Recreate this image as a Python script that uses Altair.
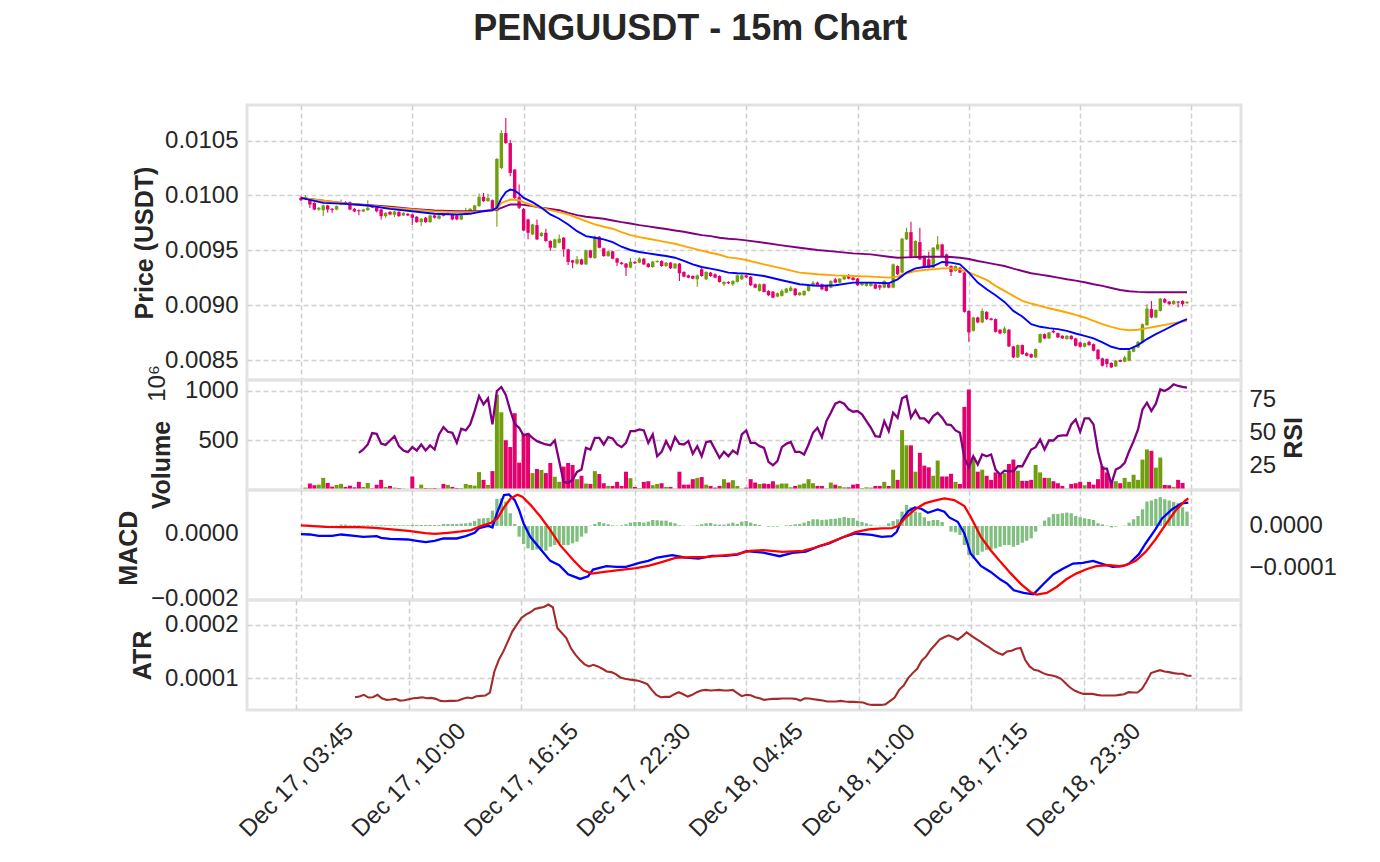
import altair as alt
import pandas as pd

# ---------------- data ----------------
N = 200  # 15-minute candles, index 0 = Dec 17 03:45
x_tick_values = [0, 25, 50, 75, 100, 125, 150, 175, 200]
x_tick_labels = ["Dec 17, 03:45", "Dec 17, 10:00", "Dec 17, 16:15", "Dec 17, 22:30",
                 "Dec 18, 04:45", "Dec 18, 11:00", "Dec 18, 17:15", "Dec 18, 23:30", ""]

# prices in micro-USDT (1e-6 USDT)
open_e6 = [
    9978, 9972, 9972, 9933, 9872, 9866, 9909, 9878, 9872, 9918,
    9939, 9939, 9878, 9866, 9854, 9866, 9900, 9888, 9872, 9812,
    9851, 9824, 9851, 9818, 9833, 9827, 9806, 9757, 9797, 9757,
    9818, 9788, 9824, 9836, 9827, 9818, 9782, 9836, 9857, 9866,
    9903, 9988, 9948, 9957, 9857, 10251, 10569, 10478, 10236, 9985,
    9878, 9782, 9645, 9730, 9630, 9660, 9585, 9524, 9569, 9615,
    9509, 9409, 9379, 9418, 9372, 9500, 9430, 9624, 9518, 9448,
    9491, 9427, 9388, 9379, 9342, 9394, 9388, 9424, 9379, 9348,
    9394, 9403, 9357, 9388, 9336, 9379, 9303, 9272, 9266, 9236,
    9327, 9236, 9297, 9282, 9266, 9191, 9212, 9191, 9212, 9236,
    9272, 9260, 9191, 9130, 9191, 9130, 9124, 9079, 9085, 9115,
    9130, 9151, 9091, 9091, 9130, 9176, 9206, 9191, 9176, 9160,
    9236, 9206, 9236, 9272, 9251, 9242, 9182, 9176, 9176, 9191,
    9182, 9160, 9191, 9160, 9357, 9297, 9600, 9666, 9433, 9575,
    9448, 9418, 9342, 9509, 9554, 9463, 9357, 9312, 9342, 9297,
    8948, 8766, 8888, 8843, 8939, 8879, 8873, 8776, 8745, 8776,
    8624, 8524, 8636, 8563, 8554, 8524, 8660, 8736, 8697, 8766,
    8745, 8721, 8691, 8721, 8697, 8660, 8621, 8666, 8645, 8594,
    8515, 8509, 8473, 8442, 8500, 8485, 8494, 8576, 8615, 8660,
    8818, 8964, 8888, 8948, 9055, 9033, 9009, 9033, 9039, 9018,
]
close_e6 = [
    9957, 9985, 9918, 9872, 9888, 9909, 9872, 9869, 9903, 9933,
    9927, 9872, 9854, 9857, 9872, 9888, 9891, 9857, 9812, 9842,
    9827, 9854, 9812, 9842, 9818, 9797, 9757, 9788, 9757, 9818,
    9797, 9818, 9815, 9845, 9782, 9782, 9818, 9857, 9878, 9909,
    9988, 9948, 9978, 9878, 10333, 10569, 10478, 10206, 9978, 9888,
    9681, 9660, 9736, 9600, 9660, 9585, 9524, 9600, 9606, 9509,
    9394, 9388, 9418, 9372, 9500, 9433, 9624, 9524, 9448, 9491,
    9424, 9388, 9375, 9342, 9397, 9382, 9424, 9372, 9348, 9397,
    9403, 9357, 9388, 9336, 9379, 9291, 9260, 9251, 9242, 9272,
    9266, 9303, 9266, 9251, 9212, 9212, 9200, 9221, 9272, 9272,
    9254, 9182, 9160, 9191, 9121, 9091, 9069, 9109, 9130, 9151,
    9160, 9091, 9115, 9130, 9182, 9206, 9182, 9145, 9130, 9221,
    9206, 9242, 9266, 9242, 9230, 9182, 9206, 9206, 9206, 9151,
    9160, 9221, 9160, 9372, 9282, 9606, 9666, 9433, 9585, 9418,
    9342, 9342, 9524, 9554, 9448, 9357, 9303, 9357, 9297, 8939,
    8752, 8888, 8843, 8948, 8873, 8866, 8757, 8742, 8788, 8624,
    8524, 8636, 8554, 8539, 8524, 8600, 8736, 8697, 8752, 8752,
    8706, 8697, 8721, 8691, 8630, 8621, 8654, 8636, 8585, 8509,
    8448, 8463, 8433, 8494, 8485, 8524, 8585, 8615, 8666, 8827,
    8969, 8888, 8957, 9060, 9024, 9009, 9039, 9024, 9009, 9030,
]
high_e6 = [
    9994, 10003, 9978, 9939, 9894, 9918, 9915, 9885, 9909, 9963,
    9948, 9945, 9885, 9872, 9878, 9957, 9906, 9894, 9878, 9848,
    9857, 9860, 9857, 9848, 9839, 9833, 9812, 9794, 9803, 9824,
    9824, 9824, 9830, 9851, 9833, 9824, 9824, 9888, 9885, 9915,
    10018, 10024, 10015, 9963, 10342, 10594, 10706, 10509, 10242, 10100,
    9885, 9788, 9742, 9782, 9666, 9697, 9591, 9606, 9645, 9621,
    9515, 9415, 9448, 9424, 9506, 9506, 9636, 9630, 9524, 9497,
    9497, 9433, 9394, 9385, 9430, 9400, 9436, 9430, 9385, 9403,
    9409, 9409, 9394, 9394, 9385, 9385, 9309, 9279, 9272, 9279,
    9342, 9309, 9303, 9288, 9272, 9218, 9218, 9227, 9279, 9279,
    9279, 9266, 9197, 9197, 9197, 9136, 9130, 9115, 9145, 9157,
    9176, 9157, 9121, 9136, 9188, 9221, 9215, 9197, 9182, 9227,
    9251, 9248, 9272, 9285, 9257, 9248, 9212, 9212, 9212, 9197,
    9188, 9227, 9197, 9379, 9363, 9612, 9706, 9760, 9591, 9706,
    9454, 9488, 9530, 9630, 9560, 9469, 9363, 9363, 9348, 9303,
    8954, 8894, 8894, 8969, 8945, 8885, 8879, 8782, 8806, 8782,
    8630, 8642, 8642, 8570, 8560, 8606, 8742, 8742, 8757, 8788,
    8752, 8727, 8727, 8727, 8703, 8666, 8660, 8676, 8651, 8600,
    8521, 8515, 8479, 8500, 8506, 8539, 8591, 8621, 8673, 8833,
    9009, 9039, 8964, 9066, 9066, 9039, 9045, 9039, 9045, 9036,
]
low_e6 = [
    9948, 9963, 9885, 9866, 9860, 9812, 9842, 9842, 9866, 9912,
    9918, 9866, 9848, 9821, 9848, 9860, 9885, 9848, 9782, 9797,
    9821, 9803, 9806, 9812, 9812, 9730, 9751, 9721, 9751, 9751,
    9791, 9782, 9809, 9830, 9775, 9775, 9775, 9830, 9851, 9860,
    9897, 9942, 9942, 9872, 9715, 10242, 10472, 10175, 9969, 9878,
    9675, 9600, 9639, 9594, 9624, 9578, 9494, 9518, 9563, 9442,
    9366, 9336, 9372, 9366, 9366, 9427, 9424, 9518, 9442, 9442,
    9418, 9357, 9369, 9266, 9336, 9375, 9382, 9366, 9342, 9342,
    9388, 9351, 9351, 9330, 9330, 9221, 9254, 9245, 9236, 9169,
    9260, 9230, 9260, 9245, 9206, 9176, 9194, 9176, 9206, 9230,
    9248, 9176, 9154, 9124, 9115, 9085, 9063, 9072, 9079, 9109,
    9124, 9085, 9085, 9085, 9124, 9169, 9176, 9139, 9124, 9154,
    9200, 9200, 9230, 9236, 9224, 9176, 9176, 9169, 9169, 9145,
    9139, 9154, 9154, 9154, 9275, 9291, 9594, 9427, 9427, 9412,
    9336, 9336, 9336, 9503, 9442, 9351, 9266, 9306, 9291, 8933,
    8666, 8760, 8836, 8836, 8866, 8860, 8752, 8736, 8739, 8618,
    8518, 8518, 8548, 8533, 8518, 8518, 8654, 8691, 8691, 8745,
    8700, 8691, 8685, 8685, 8624, 8615, 8615, 8630, 8579, 8503,
    8442, 8433, 8427, 8436, 8479, 8479, 8488, 8570, 8609, 8654,
    8812, 8882, 8882, 8942, 9018, 9003, 9003, 8979, 8988, 9012,
]
# volume in millions
volume_m = [
    10, 24, 65, 48, 54, 122, 71, 34, 51, 61,
    31, 44, 27, 82, 31, 71, 17, 54, 102, 31,
    41, 24, 20, 14, 5, 136, 17, 54, 20, 20,
    20, 14, 61, 51, 31, 20, 20, 61, 51, 44,
    180, 102, 51, 190, 959, 782, 500, 432, 772, 275,
    568, 568, 170, 211, 201, 170, 272, 133, 82, 235,
    272, 252, 109, 143, 65, 61, 190, 160, 68, 41,
    41, 82, 41, 184, 119, 31, 20, 82, 88, 48,
    61, 68, 31, 31, 14, 184, 54, 54, 109, 122,
    130, 54, 41, 24, 41, 109, 75, 99, 41, 14,
    24, 109, 75, 61, 65, 61, 88, 54, 65, 65,
    27, 41, 54, 65, 109, 68, 41, 41, 14, 75,
    54, 41, 27, 27, 54, 61, 20, 27, 24, 41,
    41, 82, 41, 204, 102, 602, 449, 449, 184, 374,
    245, 228, 143, 296, 136, 136, 163, 82, 61, 836,
    1010, 330, 184, 204, 143, 102, 177, 156, 170, 262,
    306, 194, 92, 92, 102, 252, 177, 122, 122, 88,
    68, 41, 14, 61, 68, 82, 48, 82, 54, 109,
    238, 177, 88, 88, 68, 122, 82, 153, 102, 306,
    408, 394, 225, 326, 51, 48, 31, 102, 71, 8,
]

# moving averages (micro-USDT), read at the given candle indices
ema_fast_idx = [0, 5, 10, 15, 20, 25, 30, 35, 38, 41, 43, 44, 45, 46, 47, 48, 49, 50, 52, 54,
                56, 58, 60, 62, 64, 66, 68, 70, 72, 74, 76, 78, 80, 82, 84, 86, 88, 90, 92, 94,
                96, 98, 100, 104, 108, 112, 116, 120, 124, 128, 132, 134, 136, 138, 140, 142, 144, 146, 148, 150,
                152, 154, 156, 158, 160, 162, 164, 166, 168, 170, 172, 174, 176, 178, 180, 182, 184, 186, 188, 190,
                192, 194, 196, 198, 199]
ema_fast_e6 = [9978, 9933, 9924, 9909, 9878, 9857, 9833, 9827, 9833, 9857, 9866, 9888, 9972, 10030, 10054, 10045, 10015, 9978, 9939, 9888,
               9827, 9788, 9736, 9675, 9630, 9615, 9600, 9575, 9533, 9503, 9485, 9472, 9460, 9448, 9433, 9403, 9372, 9348, 9333, 9318,
               9297, 9291, 9288, 9266, 9227, 9191, 9176, 9182, 9206, 9206, 9200, 9236, 9297, 9336, 9348, 9357, 9394, 9388, 9372, 9297,
               9206, 9145, 9091, 9030, 8948, 8897, 8827, 8803, 8791, 8782, 8766, 8742, 8721, 8697, 8660, 8621, 8600, 8600, 8636, 8691,
               8736, 8776, 8818, 8857, 8873]
ema_mid_idx = [0, 10, 20, 25, 30, 35, 40, 43, 44, 45, 47, 49, 50, 52, 54, 56, 58, 60, 62, 64,
               66, 68, 70, 72, 74, 76, 78, 80, 82, 84, 86, 88, 90, 92, 94, 96, 98, 100, 104, 108,
               112, 116, 120, 124, 128, 132, 134, 136, 138, 140, 142, 144, 146, 148, 150, 152, 154, 156, 158, 160,
               162, 164, 166, 168, 170, 172, 174, 176, 178, 180, 182, 184, 186, 188, 190, 192, 194, 196, 198, 199]
ema_mid_e6 = [9978, 9927, 9888, 9872, 9854, 9848, 9851, 9866, 9878, 9933, 9963, 9957, 9939, 9909, 9888, 9866, 9848, 9827, 9797, 9766,
              9736, 9715, 9697, 9666, 9639, 9621, 9606, 9591, 9575, 9560, 9539, 9518, 9497, 9478, 9460, 9436, 9427, 9412, 9372, 9336,
              9297, 9282, 9272, 9266, 9260, 9251, 9260, 9291, 9312, 9321, 9327, 9336, 9336, 9327, 9300, 9266, 9230, 9176, 9130, 9085,
              9039, 9015, 8994, 8972, 8954, 8933, 8912, 8888, 8857, 8827, 8803, 8782, 8772, 8776, 8791, 8806, 8821, 8836, 8851, 8857]
ema_slow_idx = [0, 10, 20, 25, 30, 35, 40, 43, 44, 45, 47, 49, 50, 52, 54, 56, 58, 60, 62, 64,
                66, 68, 70, 72, 74, 76, 78, 80, 82, 84, 86, 88, 90, 92, 94, 96, 98, 100, 104, 108,
                112, 116, 120, 124, 128, 132, 134, 136, 140, 144, 146, 148, 150, 152, 154, 156, 158, 160, 162, 164,
                166, 168, 170, 172, 174, 176, 178, 180, 182, 184, 186, 188, 190, 199]
ema_slow_e6 = [9978, 9927, 9897, 9878, 9863, 9857, 9857, 9866, 9872, 9888, 9918, 9918, 9915, 9903, 9888, 9878, 9866, 9842, 9821, 9806,
               9797, 9788, 9772, 9757, 9745, 9730, 9718, 9706, 9694, 9681, 9669, 9654, 9639, 9630, 9615, 9606, 9600, 9591, 9569, 9545,
               9524, 9503, 9488, 9472, 9463, 9442, 9433, 9436, 9442, 9442, 9439, 9433, 9421, 9403, 9388, 9372, 9357, 9333, 9312, 9291,
               9279, 9266, 9251, 9236, 9224, 9209, 9191, 9176, 9157, 9139, 9127, 9121, 9118, 9118]

# RSI from candle 13 onwards
rsi_start = 13
rsi_vals = [
    34.75, 37.25, 41.0, 49.5, 49.0, 41.75, 40.75, 44.0, 47.25, 39.75,
    36.5, 35.25, 39.0, 36.5, 41.0, 36.5, 40.25, 37.25, 48.5, 54.0,
    50.5, 49.75, 42.25, 52.75, 51.5, 56.0, 66.0, 77.25, 71.0, 75.5,
    56.0, 81.0, 84.0, 78.0, 66.5, 56.5, 53.5, 47.75, 49.0, 46.0,
    43.5, 42.25, 41.0, 40.5, 44.0, 28.5, 13.0, 12.25, 14.75, 20.5,
    22.25, 38.5, 37.25, 46.0, 46.0, 41.0, 46.5, 45.5, 41.0, 39.0,
    42.25, 51.0, 51.0, 52.25, 51.5, 42.25, 48.5, 32.25, 35.5, 43.5,
    37.25, 46.5, 41.5, 41.0, 43.5, 34.0, 39.75, 32.25, 42.75, 43.5,
    37.25, 31.0, 35.5, 32.25, 36.5, 34.0, 48.5, 51.5, 42.25, 42.25,
    39.75, 38.5, 28.0, 25.5, 28.5, 39.0, 41.5, 43.0, 35.5, 35.5,
    33.5, 41.0, 49.75, 53.5, 46.5, 58.5, 64.75, 71.5, 73.0, 71.5,
    67.25, 65.5, 66.0, 63.5, 58.5, 53.5, 47.25, 46.75, 58.5, 51.0,
    64.75, 61.0, 75.5, 77.25, 61.0, 66.5, 60.5, 60.5, 57.25, 62.25,
    64.75, 61.0, 56.0, 55.5, 51.5, 49.75, 31.0, 24.0, 32.25, 26.0,
    33.5, 32.25, 33.5, 22.25, 18.5, 21.5, 21.0, 21.0, 24.75, 24.75,
    31.0, 37.25, 39.0, 44.75, 37.25, 44.0, 44.0, 47.25, 47.75, 47.75,
    56.0, 59.75, 50.5, 60.5, 60.5, 56.0, 36.0, 23.0, 23.0, 11.5,
    22.25, 24.0, 27.25, 36.0, 43.5, 52.25, 67.25, 72.25, 66.0, 71.5,
    82.25, 81.0, 83.0, 86.0, 84.75, 84.0, 83.5,
]

# MACD line and signal (1e-6), read at candle positions
macd_idx = [0, 2, 4, 7, 9, 12, 14, 17, 18, 20, 24, 26, 28, 30, 32, 35, 37, 39, 40, 42,
            43, 44, 45.6, 46.7, 48, 49, 50, 51.5, 54, 56, 58, 60, 62.7, 64.5, 65.6, 68.6, 70.8, 73, 76, 78,
            80, 83.4, 86.4, 89.3, 92.3, 95.3, 98, 100, 103.8, 107.5, 110.4, 113.4, 116.4, 118.6, 121.6, 124.5, 128.2, 130.4, 132.7, 133.8,
            134.9, 136.4, 137.9, 139.3, 140.8, 143, 144.5, 145.6, 147.5, 149, 150.4, 152.7, 154.9, 157.1, 158.6, 160.1, 162.3, 164.5, 166.7, 169,
            171.2, 173.4, 175.6, 177.9, 180.1, 182.3, 184.5, 186, 188.2, 189.7, 191.9, 193.4, 195.6, 197.8, 199.3]
macd_e6 = [-1.0, -2.1, -6.2, -6.2, -2.1, -6.2, -9.3, -7.2, -12.4, -15.5, -17.5, -21.6, -25.8, -21.6, -14.4, -14.4, -7.2, 3.1, 17.5, 24.7,
           19.6, 62.8, 119.5, 121.5, 104.0, 73.1, 31.9, -9.3, -50.5, -83.4, -96.8, -124.6, -139.1, -130.8, -110.2, -99.9, -102.0, -102.0, -89.6, -83.4,
           -73.1, -65.9, -73.1, -76.2, -68.0, -68.0, -63.9, -53.6, -57.7, -69.0, -58.7, -54.6, -38.1, -29.9, -11.3, 1.0, -3.1, -9.3, -7.2, 6.2,
           42.2, 70.0, 81.4, 77.3, 64.9, 75.2, 68.0, 50.5, 37.1, 1.0, -60.8, -98.9, -117.4, -141.1, -153.5, -174.1, -182.3, -186.4, -155.5, -124.6,
           -107.1, -91.7, -89.6, -83.4, -93.7, -102.0, -99.9, -91.7, -62.8, -29.9, 13.4, 47.4, 75.2, 93.7, 95.8]
signal_idx = [0, 5.6, 9.3, 13, 16.7, 20.4, 24.1, 27.9, 30.1, 33, 36, 38.2, 40.4, 42.7, 44.1, 45.6, 47.1, 48.6, 49.7, 51.6,
              53.8, 56, 58.2, 61.2, 63.4, 65.3, 68.6, 72.3, 75.3, 78.2, 81.2, 84.1, 87.9, 90.8, 94.5, 97.9, 100.8, 103.8, 108.2, 112.7,
              115.6, 118.6, 121.6, 124.5, 127.5, 130.4, 132.7, 134.1, 135.6, 137.9, 140.1, 142.3, 144.5, 146.7, 149, 150.4, 152.7, 154.9, 157.1, 159.3,
              161.6, 163.8, 165.2, 167.5, 169.7, 171.9, 174.1, 176.4, 178.6, 181.6, 183.8, 185.3, 187.5, 189.7, 191.9, 194.1, 196.4, 198.6, 199.3]
signal_e6 = [25.8, 21.6, 20.6, 20.6, 18.5, 13.4, 9.3, 2.1, 0.0, 3.1, 7.2, 11.3, 23.7, 34.0, 47.4, 81.4, 109.2, 120.5, 114.3, 88.6,
             52.5, 11.3, -35.0, -81.4, -112.3, -122.6, -116.4, -110.2, -106.1, -97.9, -86.5, -74.2, -72.1, -72.1, -67.0, -62.8, -52.5, -50.5, -55.6, -52.5,
             -42.2, -27.8, -11.3, 5.2, 13.4, 16.5, 17.5, 23.7, 47.4, 75.2, 93.7, 102.0, 109.2, 104.0, 85.5, 52.5, -9.3, -50.5, -86.5, -120.5,
             -153.5, -179.2, -187.5, -182.3, -163.8, -140.1, -122.6, -109.2, -99.9, -96.8, -99.9, -96.8, -83.4, -55.6, -17.5, 26.8, 71.1, 102.0, 109.2]
# MACD histogram per candle (1e-6)
hist_e6 = [
    0.8, 0.8, 0.8, 0.8, 0.8, 0.8, 0.8, 0.8, 0.8, 3.2,
    3.2, 1.6, 1.6, 1.6, 1.6, 1.6, 1.6, 1.6, 1.6, 1.6,
    1.6, 1.6, 1.6, 1.6, 1.6, 2.4, 2.4, 2.4, 2.4, 2.4,
    2.4, 2.4, 4.8, 4.8, 4.8, 4.8, 5.6, 6.4, 8.0, 12.0,
    17.6, 18.4, 19.2, 36.8, 64.8, 66.4, 58.4, 30.4, 4.8, -25.6,
    -43.2, -53.6, -57.6, -56.0, -56.0, -59.2, -49.6, -45.6, -41.6, -45.6,
    -45.6, -41.6, -37.6, -25.6, -17.6, 0.8, 4.8, 9.6, 6.4, 4.0,
    1.6, 0.8, 1.6, 4.0, 8.0, 9.6, 9.6, 8.0, 10.4, 14.4,
    13.6, 12.8, 12.8, 8.8, 6.4, 1.6, 0.8, 0.0, 0.8, 1.6,
    4.0, 6.4, 7.2, 4.0, 3.2, 3.2, 5.6, 8.0, 4.8, 10.4,
    12.0, 8.0, 4.8, 2.4, 0.0, -1.6, -1.6, -1.6, 0.0, 1.6,
    2.4, 4.0, 4.8, 8.0, 12.0, 16.0, 16.0, 14.4, 15.2, 16.8,
    17.6, 19.2, 21.6, 19.2, 19.2, 12.8, 9.6, 6.4, 3.2, 0.8,
    0.8, 0.8, 6.4, 12.0, 16.0, 34.4, 50.4, 44.8, 34.4, 32.0,
    20.8, 12.0, 14.4, 14.4, 9.6, 0.0, -13.6, -15.2, -21.6, -45.6,
    -69.6, -77.6, -69.6, -61.6, -57.6, -56.0, -53.6, -49.6, -45.6, -45.6,
    -49.6, -45.6, -40.0, -35.2, -29.6, -13.6, 0.8, 12.8, 20.8, 28.8,
    28.8, 30.4, 32.0, 30.4, 24.0, 20.8, 18.4, 16.8, 14.4, 6.4,
    4.0, 0.8, -3.2, -1.6, 0.0, 0.8, 8.0, 16.0, 24.0, 40.0,
    58.4, 60.8, 64.8, 68.8, 64.0, 60.8, 57.6, 54.4, 44.8, 34.4,
]
# ATR from candle 13 onwards (1e-6)
atr_start = 13
atr_e6 = [
    64.4, 65.6, 68.8, 63.8, 64.4, 68.8, 62.5, 59.4, 60.0, 61.3,
    58.1, 58.8, 60.6, 62.5, 63.1, 64.4, 62.5, 63.1, 61.3, 57.5,
    56.9, 57.5, 57.5, 58.1, 61.3, 63.8, 62.5, 66.3, 66.9, 67.5,
    73.1, 112.5, 134.4, 150.0, 168.8, 187.5, 200.0, 212.5, 218.8, 223.1,
    229.4, 231.3, 233.1, 237.5, 232.5, 193.8, 184.4, 175.0, 156.3, 143.8,
    134.4, 126.3, 121.9, 125.0, 121.9, 117.5, 112.5, 111.3, 107.5, 101.3,
    98.8, 97.5, 96.3, 95.0, 92.5, 88.8, 78.1, 68.8, 64.4, 65.0,
    65.0, 70.0, 73.8, 70.0, 65.6, 68.8, 73.8, 76.9, 78.1, 76.9,
    77.5, 78.1, 76.9, 76.9, 78.1, 71.9, 66.3, 68.8, 68.1, 64.4,
    62.5, 59.4, 60.6, 61.3, 61.3, 61.9, 61.9, 61.9, 61.3, 58.1,
    62.5, 61.9, 60.6, 59.4, 58.1, 56.3, 56.3, 56.3, 57.5, 56.3,
    55.6, 55.6, 55.0, 54.4, 51.3, 50.0, 50.0, 50.0, 51.3, 57.5,
    63.8, 78.1, 86.3, 100.0, 109.4, 117.5, 132.5, 140.6, 153.1, 162.5,
    171.9, 176.3, 180.0, 176.3, 171.9, 178.1, 185.6, 179.4, 173.8, 168.8,
    162.5, 157.5, 151.3, 146.9, 143.8, 150.0, 151.3, 155.0, 156.3, 134.4,
    121.9, 115.6, 113.8, 109.4, 106.3, 105.0, 102.5, 98.8, 90.6, 82.5,
    76.9, 73.1, 70.6, 70.6, 70.6, 68.8, 67.5, 67.5, 67.5, 67.5,
    68.8, 70.0, 73.8, 73.1, 73.1, 80.0, 93.8, 109.4, 112.5, 115.0,
    112.5, 111.3, 109.4, 108.1, 108.1, 104.4, 104.4,
]

# ---------------- styling ----------------
GREEN = "#6f9f0c"
PINK = "#e5006d"
FONT = "Liberation Sans"
TXT = "#262626"
XDOM = [-11, 210]

E6 = 1e-6
price_df = pd.DataFrame({
    "idx": list(range(N)),
    "open": [v * E6 for v in open_e6],
    "high": [v * E6 for v in high_e6],
    "low": [v * E6 for v in low_e6],
    "close": [v * E6 for v in close_e6],
    "vol": volume_m,
})
price_df["dir"] = ["up" if c >= o else "down" for o, c in zip(open_e6, close_e6)]

fast_df = pd.DataFrame({"idx": ema_fast_idx, "v": [v * E6 for v in ema_fast_e6]})
mid_df = pd.DataFrame({"idx": ema_mid_idx, "v": [v * E6 for v in ema_mid_e6]})
slow_df = pd.DataFrame({"idx": ema_slow_idx, "v": [v * E6 for v in ema_slow_e6]})
rsi_df = pd.DataFrame({"idx": list(range(rsi_start, rsi_start + len(rsi_vals))), "rsi": rsi_vals})
macd_df = pd.DataFrame({"idx": macd_idx, "v": [v * E6 for v in macd_e6]})
sig_df = pd.DataFrame({"idx": signal_idx, "v": [v * E6 for v in signal_e6]})
hist_df = pd.DataFrame({"idx": list(range(N)), "h": [v * E6 for v in hist_e6]})
atr_df = pd.DataFrame({"idx": list(range(atr_start, atr_start + len(atr_e6))), "atr": [v * E6 for v in atr_e6]})

label_js = "[" + ",".join("'" + s + "'" for s in x_tick_labels) + "][round(datum.value/25)]"


def xenc(show):
    if show:
        ax = alt.Axis(values=x_tick_values, labelExpr=label_js, labelAngle=315,
                      labelAlign="center", labelBaseline="middle", labelPadding=70,
                      grid=True, title=None, labelOverlap=False, labelFlush=False)
    else:
        ax = alt.Axis(values=x_tick_values, labels=False, grid=True, title=None)
    return alt.X("idx:Q", scale=alt.Scale(domain=XDOM, nice=False, zero=False), axis=ax)


color_enc = alt.Color("dir:N", scale=alt.Scale(domain=["up", "down"], range=[GREEN, PINK]), legend=None)

# ---- price panel ----
p_scale = alt.Scale(domain=[0.008318, 0.010825], nice=False, zero=False)
p_axis = alt.Axis(values=[0.0085, 0.0090, 0.0095, 0.0100, 0.0105], format=".4f", title="Price (USDT)",
                  titleX=-103, titleY=137.5)

wick = alt.Chart(price_df).mark_rule(strokeWidth=1.1).encode(
    x=xenc(False), y=alt.Y("low:Q", scale=p_scale, axis=p_axis), y2="high:Q", color=color_enc)
body = alt.Chart(price_df).mark_bar(size=3.4).encode(
    x=xenc(False), y=alt.Y("open:Q", scale=p_scale, axis=p_axis), y2="close:Q", color=color_enc)


def ma_line(df, col):
    return alt.Chart(df).mark_line(color=col, strokeWidth=1.9).encode(
        x=xenc(False), y=alt.Y("v:Q", scale=p_scale, axis=p_axis))


price = alt.layer(wick, body, ma_line(slow_df, "#800080"), ma_line(mid_df, "#ffa500"),
                  ma_line(fast_df, "#0000ff")).properties(width=994, height=275)

# ---- volume + RSI panel ----
vol = alt.Chart(price_df).mark_bar(size=4).encode(
    x=xenc(False),
    y=alt.Y("vol:Q", scale=alt.Scale(domain=[0, 1106], nice=False),
            axis=alt.Axis(values=[500, 1000], format="d", title="Volume", orient="left",
                          titleX=-86, titleY=84.5)),
    color=color_enc)
rsi = alt.Chart(rsi_df).mark_line(color="#800080", strokeWidth=2.3).encode(
    x=xenc(False),
    y=alt.Y("rsi:Q", scale=alt.Scale(domain=[7.0, 89.2], nice=False, zero=False),
            axis=alt.Axis(values=[25, 50, 75], format="d", title="RSI", orient="right", grid=False,
                          labelPadding=8, titleX=52, titleY=57.5, titleAngle=270)))
offset_txt = alt.Chart(pd.DataFrame({"t": ["10⁶"]})).mark_text(
    angle=270, fontSize=24, font=FONT, color=TXT).encode(
    text="t:N", x=alt.value(-89), y=alt.value(3.5))
volpanel = alt.layer(vol, rsi, offset_txt).resolve_scale(y="independent").properties(width=994, height=110)

# ---- MACD panel ----
hist = alt.Chart(hist_df).mark_bar(size=3.3, color="#80bf80").encode(
    x=xenc(False),
    y=alt.Y("h:Q", scale=alt.Scale(domain=[-0.000177, 0.000086], nice=False, zero=False),
            axis=alt.Axis(values=[0.0, -0.0001], format=".4f", orient="right", grid=False, title=None,
                          labelPadding=8)),
    y2=alt.datum(0))
m_scale = alt.Scale(domain=[-0.000204, 0.000135], nice=False, zero=False)
m_axis = alt.Axis(values=[0.0, -0.0002], format=".4f", orient="left", title="MACD",
                  titleX=-119, titleY=57.7)
macd_line = alt.Chart(macd_df).mark_line(color="#0000ff", strokeWidth=2.3).encode(
    x=xenc(False), y=alt.Y("v:Q", scale=m_scale, axis=m_axis))
sig_line = alt.Chart(sig_df).mark_line(color="#ff0000", strokeWidth=2.3).encode(
    x=xenc(False), y=alt.Y("v:Q", scale=m_scale, axis=m_axis))
macdpanel = alt.layer(hist, alt.layer(macd_line, sig_line)).resolve_scale(y="independent").properties(
    width=994, height=110)

# ---- ATR panel ----
atrpanel = alt.Chart(atr_df).mark_line(color="#a52a2a", strokeWidth=2.1).encode(
    x=xenc(True),
    y=alt.Y("atr:Q", scale=alt.Scale(domain=[0.0000405, 0.000246], nice=False, zero=False),
            axis=alt.Axis(values=[0.0001, 0.0002], format=".4f", title="ATR", titleX=-105, titleY=55))
).properties(width=994, height=110)

chart = alt.vconcat(price, volpanel, macdpanel, atrpanel, spacing=0, bounds="flush").properties(
    title=alt.TitleParams("PENGUUSDT - 15m Chart", fontSize=36, fontWeight="bold", font=FONT, color=TXT,
                          anchor="middle", dx=-36, offset=56),
    padding={"left": 106, "top": 2, "right": 5, "bottom": 5},
    background="white",
).configure_view(
    stroke="#e3e3e3", strokeWidth=3
).configure_axis(
    labelFont=FONT, labelFontSize=24, labelColor=TXT, labelPadding=9,
    titleFont=FONT, titleFontSize=25, titleFontWeight="bold", titleColor=TXT,
    titleBaseline="middle", titleAlign="center",
    gridColor="#d0d0d0", gridDash=[5, 3], gridWidth=1.5,
    domain=False, ticks=False, labelFlush=False, labelOverlap=False,
)

chart.save("out.html", embed_options={"renderer": "svg", "actions": False})
